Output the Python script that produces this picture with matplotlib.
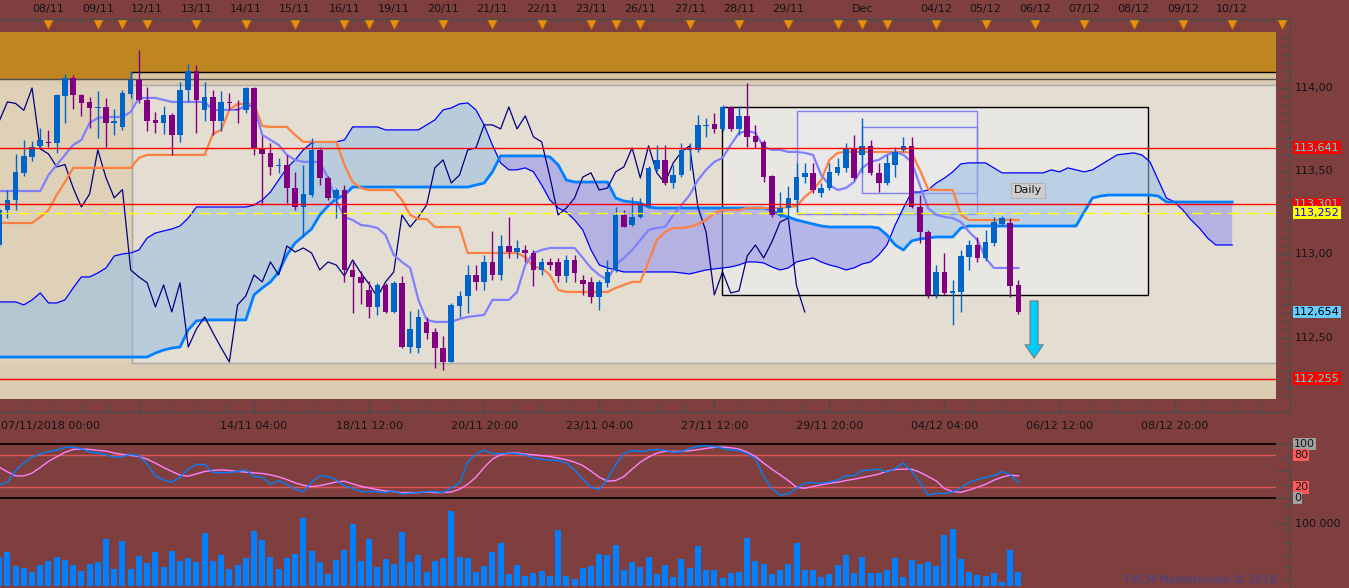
import matplotlib
matplotlib.use("Agg")
import matplotlib.pyplot as plt
import matplotlib.transforms as mtransforms
from matplotlib.lines import Line2D
from matplotlib.patches import Rectangle
import numpy as np

plt.rcParams["font.family"] = "DejaVu Sans"

# ---------------- data (4H bars, oldest first) ----------------
opens = [
    113.057, 113.267, 113.327, 113.49, 113.587, 113.652, 113.676, 113.67, 113.952, 114.06,
    113.958, 113.916, 113.88, 113.886, 113.79, 113.766, 113.964, 114.048, 113.928, 113.81,
    113.79, 113.84, 113.718, 113.988, 114.10, 113.868, 113.946, 113.80, 113.913, 113.87,
    113.868, 114.00, 113.64, 113.61, 113.53, 113.537, 113.40, 113.285, 113.357, 113.628,
    113.46, 113.34, 113.39, 112.907, 112.865, 112.787, 112.685, 112.817, 112.655, 112.83,
    112.444, 112.44, 112.595, 112.535, 112.44, 112.354, 112.691, 112.751, 112.877, 112.835,
    112.955, 112.877, 113.051, 113.015, 113.027, 113.009, 112.907, 112.955, 112.955, 112.871,
    112.967, 112.847, 112.835, 112.745, 112.829, 112.907, 113.237, 113.177, 113.225, 113.285,
    113.514, 113.568, 113.429, 113.477, 113.628, 113.628, 113.772, 113.784, 113.754, 113.886,
    113.754, 113.832, 113.712, 113.676, 113.471, 113.237, 113.279, 113.327, 113.465, 113.490,
    113.369, 113.399, 113.490, 113.520, 113.640, 113.598, 113.652, 113.490, 113.429, 113.538,
    113.628, 113.652, 113.285, 113.135, 112.757, 112.895, 112.769, 112.775, 112.985, 113.057,
    112.979, 113.069, 113.183, 113.189, 112.817,
]
highs = [
    113.28, 113.387, 113.604, 113.69, 113.68, 113.76, 113.748, 113.964, 114.084, 114.078,
    113.964, 113.946, 113.98, 113.94, 113.874, 113.99, 114.10, 114.228, 114.006, 113.856,
    113.89, 113.85, 114.036, 114.144, 114.138, 114.036, 113.99, 113.98, 113.97, 113.93,
    114.006, 114.006, 113.71, 113.67, 113.58, 113.598, 113.495, 113.537, 113.70, 113.646,
    113.47, 113.40, 113.42, 112.96, 112.90, 112.84, 112.83, 112.83, 112.84, 112.87,
    112.66, 112.67, 112.625, 112.56, 112.51, 112.709, 112.78, 112.937, 112.937, 112.997,
    113.141, 113.117, 113.225, 113.087, 113.057, 113.027, 112.979, 112.979, 112.979, 112.997,
    112.997, 112.877, 112.865, 112.847, 112.967, 113.285, 113.267, 113.345, 113.339, 113.53,
    113.658, 113.658, 113.538, 113.670, 113.670, 113.838, 113.820, 113.850, 113.898, 113.892,
    113.892, 114.030, 113.778, 113.688, 113.477, 113.375, 113.411, 113.550, 113.550, 113.550,
    113.429, 113.550, 113.580, 113.670, 113.718, 113.820, 113.688, 113.550, 113.598, 113.646,
    113.706, 113.706, 113.357, 113.147, 112.937, 113.009, 112.847, 113.027, 113.087, 113.105,
    113.147, 113.225, 113.231, 113.219, 112.847,
]
lows = [
    113.04, 113.22, 113.267, 113.47, 113.56, 113.64, 113.646, 113.61, 113.79, 113.874,
    113.83, 113.76, 113.70, 113.646, 113.72, 113.75, 113.94, 113.91, 113.742, 113.73,
    113.724, 113.598, 113.676, 113.916, 113.73, 113.80, 113.72, 113.74, 113.87, 113.79,
    113.85, 113.598, 113.30, 113.478, 113.49, 113.31, 113.267, 113.105, 113.345, 113.417,
    113.327, 113.22, 112.835, 112.65, 112.70, 112.62, 112.637, 112.65, 112.65, 112.44,
    112.41, 112.41, 112.49, 112.32, 112.306, 112.354, 112.625, 112.649, 112.787, 112.787,
    112.847, 112.847, 112.979, 112.979, 112.955, 112.811, 112.877, 112.907, 112.835, 112.835,
    112.835, 112.757, 112.709, 112.667, 112.805, 112.895, 113.165, 113.171, 113.219, 113.279,
    113.50, 113.417, 113.399, 113.465, 113.508, 113.616, 113.706, 113.730, 113.742, 113.742,
    113.718, 113.646, 113.640, 113.435, 113.225, 113.225, 113.207, 113.255, 113.429, 113.369,
    113.345, 113.387, 113.477, 113.496, 113.447, 113.490, 113.477, 113.375, 113.417, 113.465,
    113.616, 113.279, 113.069, 112.739, 112.739, 112.757, 112.577, 112.655, 112.907, 112.955,
    112.961, 113.051, 113.171, 112.745, 112.643,
]
closes = [
    113.267, 113.327, 113.496, 113.59, 113.646, 113.688, 113.67, 113.958, 114.06, 113.958,
    113.91, 113.88, 113.885, 113.79, 113.80, 113.97, 114.048, 113.928, 113.80, 113.79,
    113.84, 113.718, 113.988, 114.10, 113.928, 113.946, 113.80, 113.916, 113.907, 113.866,
    114.00, 113.634, 113.604, 113.526, 113.54, 113.40, 113.285, 113.363, 113.628, 113.46,
    113.34, 113.39, 112.907, 112.865, 112.83, 112.685, 112.817, 112.655, 112.83, 112.444,
    112.553, 112.625, 112.53, 112.44, 112.354, 112.697, 112.751, 112.877, 112.835, 112.955,
    112.877, 113.051, 113.015, 113.039, 113.009, 112.907, 112.955, 112.937, 112.871, 112.967,
    112.889, 112.823, 112.745, 112.835, 112.895, 113.237, 113.165, 113.225, 113.297, 113.520,
    113.568, 113.429, 113.477, 113.628, 113.640, 113.778, 113.778, 113.754, 113.886, 113.754,
    113.832, 113.706, 113.676, 113.465, 113.237, 113.279, 113.339, 113.465, 113.490, 113.387,
    113.399, 113.496, 113.526, 113.640, 113.459, 113.652, 113.490, 113.429, 113.550, 113.616,
    113.652, 113.285, 113.135, 112.757, 112.895, 112.769, 112.781, 112.991, 113.057, 112.979,
    113.075, 113.195, 113.219, 112.811, 112.655,
]

tenkan = [
    113.381, 113.381, 113.381, 113.381, 113.381, 113.381, 113.477, 113.538, 113.598, 113.658,
    113.688, 113.790, 113.820, 113.826, 113.826, 113.826, 113.856, 113.940, 113.940, 113.940,
    113.928, 113.916, 113.916, 113.916, 113.916, 113.916, 113.868, 113.868, 113.868, 113.868,
    113.892, 113.892, 113.718, 113.688, 113.658, 113.598, 113.568, 113.556, 113.556, 113.556,
    113.459, 113.327, 113.225, 113.207, 113.177, 113.171, 113.159, 113.117, 112.997, 112.955,
    112.919, 112.727, 112.607, 112.595, 112.595, 112.595, 112.613, 112.625, 112.631, 112.637,
    112.727, 112.727, 112.727, 112.775, 112.937, 113.009, 113.027, 113.039, 113.039, 113.039,
    113.039, 112.979, 112.919, 112.877, 112.847, 112.937, 112.979, 113.027, 113.087, 113.147,
    113.159, 113.165, 113.237, 113.297, 113.357, 113.447, 113.508, 113.556, 113.580, 113.658,
    113.730, 113.742, 113.730, 113.646, 113.628, 113.628, 113.616, 113.616, 113.610, 113.598,
    113.477, 113.417, 113.387, 113.399, 113.435, 113.520, 113.556, 113.568, 113.598, 113.616,
    113.598, 113.556, 113.417, 113.279, 113.237, 113.225, 113.219, 113.195, 113.135, 113.087,
    112.979, 112.919, 112.919, 112.919, 112.919,
]
kijun = [
    113.189, 113.189, 113.189, 113.189, 113.189, 113.225, 113.267, 113.357, 113.435, 113.520,
    113.520, 113.520, 113.520, 113.520, 113.520, 113.520, 113.520, 113.580, 113.598, 113.598,
    113.598, 113.598, 113.598, 113.598, 113.598, 113.598, 113.724, 113.748, 113.868, 113.904,
    113.904, 113.904, 113.772, 113.766, 113.766, 113.766, 113.718, 113.676, 113.676, 113.676,
    113.676, 113.676, 113.538, 113.435, 113.399, 113.387, 113.387, 113.387, 113.387, 113.327,
    113.237, 113.213, 113.213, 113.165, 113.165, 113.165, 113.165, 113.009, 113.009, 113.009,
    113.009, 113.009, 113.009, 113.009, 112.985, 112.925, 112.919, 112.877, 112.787, 112.775,
    112.775, 112.775, 112.775, 112.775, 112.775, 112.799, 112.817, 112.835, 112.835, 112.955,
    113.087, 113.135, 113.159, 113.159, 113.165, 113.183, 113.207, 113.249, 113.267, 113.267,
    113.267, 113.279, 113.279, 113.279, 113.279, 113.279, 113.285, 113.291, 113.345, 113.387,
    113.447, 113.568, 113.610, 113.616, 113.616, 113.616, 113.616, 113.616, 113.616, 113.616,
    113.616, 113.610, 113.508, 113.393, 113.387, 113.387, 113.387, 113.237, 113.207, 113.207,
    113.207, 113.207, 113.207, 113.207, 113.207,
]
# cloud, already shifted 26 bars ahead (thick = span A, thin = span B)
span_a = [
    112.384, 112.384, 112.384, 112.384, 112.384, 112.384, 112.384, 112.384, 112.384, 112.384,
    112.384, 112.384, 112.384, 112.384, 112.384, 112.384, 112.384, 112.384, 112.384, 112.408,
    112.426, 112.438, 112.444, 112.547, 112.601, 112.607, 112.607, 112.607, 112.607, 112.607,
    112.607, 112.757, 112.799, 112.835, 112.895, 112.997, 113.069, 113.111, 113.153, 113.237,
    113.291, 113.333, 113.357, 113.405, 113.405, 113.405, 113.405, 113.405, 113.405, 113.405,
    113.405, 113.405, 113.405, 113.405, 113.405, 113.405, 113.405, 113.405, 113.417, 113.429,
    113.496, 113.592, 113.592, 113.592, 113.592, 113.592, 113.592, 113.586, 113.538, 113.447,
    113.435, 113.435, 113.435, 113.435, 113.435, 113.339, 113.321, 113.315, 113.309, 113.285,
    113.279, 113.279, 113.279, 113.279, 113.279, 113.279, 113.279, 113.279, 113.279, 113.279,
    113.279, 113.279, 113.279, 113.279, 113.267, 113.237, 113.225, 113.207, 113.195, 113.183,
    113.171, 113.165, 113.165, 113.165, 113.165, 113.165, 113.165, 113.159, 113.117, 113.057,
    113.027, 113.081, 113.093, 113.099, 113.105, 113.105, 113.105, 113.159, 113.171, 113.171,
    113.171, 113.171, 113.171, 113.171, 113.171, 113.171, 113.171, 113.171, 113.171, 113.171,
    113.171, 113.171, 113.255, 113.339, 113.351, 113.357, 113.357, 113.357, 113.357, 113.357,
    113.357, 113.351, 113.315, 113.315, 113.315, 113.315, 113.315, 113.315, 113.315, 113.315,
    113.315,
]
span_b = [
    112.715, 112.715, 112.715, 112.697, 112.727, 112.769, 112.709, 112.709, 112.727, 112.799,
    112.865, 112.865, 112.889, 112.919, 112.991, 113.003, 113.009, 113.027, 113.099, 113.129,
    113.141, 113.153, 113.171, 113.219, 113.285, 113.285, 113.285, 113.285, 113.285, 113.285,
    113.285, 113.297, 113.327, 113.375, 113.447, 113.520, 113.568, 113.628, 113.670, 113.676,
    113.676, 113.676, 113.688, 113.766, 113.766, 113.766, 113.766, 113.748, 113.748, 113.748,
    113.748, 113.748, 113.778, 113.808, 113.868, 113.880, 113.904, 113.910, 113.868, 113.778,
    113.658, 113.550, 113.508, 113.508, 113.520, 113.496, 113.417, 113.327, 113.279, 113.255,
    113.207, 113.147, 113.027, 112.937, 112.919, 112.907, 112.895, 112.895, 112.895, 112.895,
    112.895, 112.895, 112.895, 112.889, 112.883, 112.895, 112.907, 112.913, 112.919, 112.925,
    112.937, 112.955, 112.955, 112.949, 112.925, 112.907, 112.919, 112.955, 112.967, 112.979,
    112.955, 112.937, 112.925, 112.907, 112.919, 112.943, 112.955, 112.997, 113.057, 113.177,
    113.279, 113.375, 113.375, 113.387, 113.429, 113.459, 113.496, 113.544, 113.550, 113.550,
    113.550, 113.520, 113.490, 113.490, 113.490, 113.490, 113.490, 113.490, 113.508, 113.496,
    113.520, 113.508, 113.496, 113.508, 113.538, 113.568, 113.598, 113.604, 113.610, 113.598,
    113.556, 113.447, 113.339, 113.315, 113.267, 113.207, 113.159, 113.099, 113.057, 113.057,
    113.057,
]

stoch_k = [
    24.7, 29.6, 51.2, 64.8, 75.9, 82.1, 85.8, 88.8, 93.8, 94.4,
    91.3, 85.1, 83.3, 80.2, 75.3, 77.1, 80.8, 78.4, 63.5, 41.3,
    33.9, 29.6, 38.9, 54.3, 62.3, 62.3, 47.5, 47.5, 47.5, 49.4,
    52.4, 40.1, 38.9, 25.9, 32.7, 25.9, 16.7, 12.3, 29.6, 41.3,
    40.1, 33.9, 22.8, 18.5, 12.3, 12.3, 12.3, 10.5, 13.6, 8.0,
    9.3, 10.5, 12.3, 12.3, 10.5, 19.7, 27.8, 66.6, 81.4, 88.8,
    82.1, 82.1, 83.3, 82.1, 80.2, 74.0, 72.2, 69.7, 69.7, 64.8,
    52.4, 35.2, 19.7, 16.7, 35.2, 61.7, 82.1, 88.2, 86.4, 88.2,
    90.1, 88.2, 85.1, 85.8, 91.9, 95.6, 96.9, 95.6, 91.9, 88.8,
    88.2, 82.1, 72.8, 40.1, 17.9, 6.2, 8.0, 18.5, 27.8, 29.0,
    27.8, 29.6, 33.9, 41.3, 42.0, 51.2, 52.4, 53.7, 48.1, 54.9,
    64.8, 50.0, 29.0, 6.2, 9.3, 8.6, 11.7, 19.1, 29.6, 34.6,
    38.3, 42.0, 49.4, 43.2, 29.0,
]
stoch_d = [
    57.4, 48.7, 41.3, 41.3, 46.3, 56.8, 67.9, 76.5, 84.5, 90.1,
    90.7, 90.1, 88.2, 87.0, 83.3, 80.8, 79.0, 77.1, 72.2, 64.8,
    56.8, 49.4, 42.6, 40.7, 45.0, 49.4, 51.2, 52.4, 51.2, 49.4,
    48.1, 46.9, 45.7, 43.2, 39.5, 34.6, 28.4, 24.1, 21.6, 23.4,
    26.5, 30.2, 31.5, 26.5, 22.2, 19.1, 16.0, 13.6, 12.3, 10.5,
    10.5, 10.5, 11.7, 10.5, 10.5, 11.7, 16.7, 25.9, 38.9, 56.8,
    72.2, 80.2, 83.3, 83.3, 81.4, 80.2, 78.4, 77.1, 74.0, 71.0,
    66.6, 60.5, 50.0, 38.9, 31.5, 32.7, 40.1, 53.7, 66.6, 75.9,
    83.3, 86.4, 86.4, 86.4, 87.6, 89.5, 91.9, 93.8, 94.4, 93.1,
    90.7, 85.1, 77.1, 64.8, 53.7, 43.2, 32.7, 20.4, 18.5, 21.6,
    24.7, 27.8, 29.6, 32.7, 35.2, 38.3, 41.3, 44.4, 50.0, 53.1,
    53.7, 53.7, 48.1, 40.1, 32.1, 17.9, 12.3, 11.1, 15.4, 20.4,
    25.9, 33.3, 38.9, 42.6, 41.3,
]
volume_k = [  # thousands
    47.3, 54.8, 32.3, 29.0, 22.6, 33.9, 40.3, 46.8, 41.9, 33.9,
    24.2, 35.5, 38.7, 75.8, 27.4, 72.6, 27.4, 48.4, 37.1, 54.8,
    30.6, 56.5, 40.3, 45.2, 38.7, 85.5, 40.3, 50.0, 27.4, 33.9,
    45.2, 88.7, 74.2, 46.8, 27.4, 45.2, 51.6, 109.7, 56.5, 38.7,
    19.4, 41.9, 58.1, 100.0, 40.3, 75.8, 30.6, 43.6, 35.5, 87.1,
    38.7, 50.0, 22.6, 40.3, 45.2, 121.0, 46.8, 45.2, 22.6, 32.3,
    54.8, 69.4, 19.4, 33.9, 16.1, 21.0, 24.2, 16.1, 90.3, 16.1,
    11.3, 29.0, 32.3, 51.6, 50.0, 66.1, 25.8, 38.7, 30.6, 46.8,
    19.4, 33.9, 14.5, 43.6, 29.0, 64.5, 25.8, 25.8, 12.9, 21.0,
    22.6, 77.4, 40.3, 35.5, 19.4, 25.8, 35.5, 69.4, 25.8, 25.8,
    14.5, 19.4, 33.9, 50.0, 21.0, 46.8, 21.0, 21.0, 25.8, 45.2,
    14.5, 41.9, 35.5, 38.7, 32.3, 82.3, 91.9, 43.6, 22.6, 17.7,
    16.1, 21.0, 6.5, 58.1, 22.6,
]

day_idx = [6, 12, 18, 24, 30, 36, 42, 48, 54, 60, 66, 72, 78, 84, 90, 96,
           105, 114, 120, 126, 132, 138, 144, 150]
day_lbl = ["08/11", "09/11", "12/11", "13/11", "14/11", "15/11", "16/11", "19/11",
           "20/11", "21/11", "22/11", "23/11", "26/11", "27/11", "28/11", "29/11",
           "Dec", "04/12", "05/12", "06/12", "07/12", "08/12", "09/12", "10/12"]
marker_idx = [6, 12, 15, 18, 24, 30, 36, 42, 45, 48, 54, 60, 66, 72, 75, 78, 84, 90,
              96, 102, 105, 108, 114, 120, 126, 132, 138, 144, 150, 156]
time_idx = [31, 45, 59, 73, 87, 101, 115, 129, 143]
time_lbl = ["14/11 04:00", "18/11 12:00", "20/11 20:00", "23/11 04:00", "27/11 12:00",
            "29/11 20:00", "04/12 04:00", "06/12 12:00", "08/12 20:00"]

price_ticks = [112.50, 113.00, 113.50, 114.00]
red_levels = [113.641, 113.301, 112.255]
bid_level = 113.252
last_level = 112.654

# drawn zones / boxes
zone_top = (114.096, 114.336)          # orange resistance band
light_zone = (16.16, 112.348, 114.018)  # start bar, bottom, top
big_box = (87.94, 139.76, 112.757, 113.886)
blue_box = (97.0, 118.9, 113.243, 113.862)
inner_box = (105.0, 118.9, 113.369, 113.766)
arrow_x, arrow_top, arrow_tip = 125.9, 112.721, 112.378
daily_x, daily_y = 125.2, 113.385

# ---------------- layout ----------------
W, H = 1349, 588
PLOT_W = 1276
MAROON = "#7f3f3f"
TXT = "#141414"
AXC = "#4c4c4c"
XLIM = (0.10, 155.33)
YLIM = (112.132, 114.336)
BLUE = "#0064c8"
PURPLE = "#800080"

fig = plt.figure(figsize=(W / 100, H / 100), dpi=100, facecolor=MAROON)


def panel(top_px, bot_px):
    a = fig.add_axes([0, 1 - bot_px / H, PLOT_W / W, (bot_px - top_px) / H])
    a.set_xlim(*XLIM)
    a.set_xticks([])
    a.set_yticks([])
    for s in a.spines.values():
        s.set_visible(False)
    a.set_facecolor("none")
    return a


# ---- main price panel ----
ax = panel(32, 399)
ax.set_facecolor("#dccdb2")
ax.set_ylim(*YLIM)

ax.axhspan(zone_top[0], zone_top[1], color="#bf8520", lw=0, zorder=0.2)
ax.add_patch(Rectangle((XLIM[0] - 1, 114.054), light_zone[0] - XLIM[0] + 1, zone_top[0] - 114.054,
                       fc="#bf8520", lw=0, zorder=0.2))
ax.add_patch(Rectangle((light_zone[0], 114.054), 200, zone_top[0] - 114.054,
                       fc="#d9c6a0", lw=0, zorder=0.2))
ax.add_patch(Rectangle((XLIM[0] - 1, light_zone[1]), light_zone[0] - XLIM[0] + 1,
                       light_zone[2] - light_zone[1], fc="#ded1b8", lw=0, zorder=0.3))
ax.add_patch(Rectangle((light_zone[0], light_zone[1]), 200, light_zone[2] - light_zone[1],
                       fc="#e4ded2", ec="#a9a9a9", lw=1, zorder=0.3))
ax.plot([light_zone[0], light_zone[0]], [light_zone[1], zone_top[0]], color="#a9a9a9", lw=1, zorder=0.35)
ax.axhline(114.054, color="#505050", lw=1, zorder=0.4)
ax.plot([light_zone[0], XLIM[1] + 5], [zone_top[0]] * 2, color="black", lw=1, zorder=0.4)

bx = big_box
ax.add_patch(Rectangle((bx[0], bx[2]), bx[1] - bx[0], bx[3] - bx[2],
                       fc="#e9e7e2", ec="black", lw=1, zorder=0.5))
bb = blue_box
ax.add_patch(Rectangle((bb[0], bb[2]), bb[1] - bb[0], bb[3] - bb[2],
                       fc="#e9e8e8", ec="#8080f0", lw=1, zorder=0.55))
ib = inner_box
ax.add_patch(Rectangle((ib[0], ib[2]), ib[1] - ib[0], ib[3] - ib[2],
                       fc="none", ec="#8080f0", lw=1, zorder=0.56))

# ichimoku cloud
xc = np.arange(len(span_a))
sa = np.array(span_a)
sb = np.array(span_b)
ax.fill_between(xc, sa, sb, where=sb >= sa, interpolate=True, color="#96bee6", alpha=0.55, lw=0, zorder=1)
ax.fill_between(xc, sa, sb, where=sa > sb, interpolate=True, color="#8d8fef", alpha=0.55, lw=0, zorder=1)
ax.plot(xc, span_b, color="#0000ff", lw=0.9, zorder=2)
ax.plot(xc, span_a, color="#0080ff", lw=2.0, zorder=2)

xb = np.arange(len(closes))
lag = 26
ax.plot(np.arange(len(closes) - lag), closes[lag:], color="#000080", lw=0.9, zorder=2)
ax.plot(xb, kijun, color="#ff8040", lw=1.6, zorder=3)
ax.plot(xb, tenkan, color="#8080ff", lw=1.6, zorder=3)

# candles
o = np.array(opens)
c = np.array(closes)
cols = [BLUE if cc >= oo else PURPLE for oo, cc in zip(o, c)]
ax.vlines(xb, lows, highs, colors=cols, lw=1, zorder=4)
body = np.maximum(np.abs(c - o), 0.007)
ax.bar(xb, body, bottom=np.minimum(o, c), width=0.68, color=cols, lw=0, zorder=4)

# levels
for lv in red_levels:
    ax.axhline(lv, color="#ff0000", lw=1, zorder=5)
ax.axhline(bid_level, color="#ffff00", lw=1, dashes=(8, 5), zorder=5)

ax.annotate("", xy=(arrow_x, arrow_tip), xytext=(arrow_x, arrow_top),
            arrowprops=dict(arrowstyle="simple,head_width=1.3,head_length=0.95,tail_width=0.58",
                            mutation_scale=10, fc="#00ccff", ec="#7a7a7a", lw=0.8,
                            shrinkA=0, shrinkB=0), zorder=6)
ax.text(daily_x, daily_y, "Daily", ha="center", va="center", fontsize=8, color=TXT, zorder=6,
        bbox=dict(boxstyle="square,pad=0.25", fc="#cdcdcd", ec="#b4b4b4", lw=0.8))

# right price scale
tr = mtransforms.blended_transform_factory(ax.transAxes, ax.transData)
xa = 1290 / PLOT_W
for p in np.round(np.arange(112.15, 114.31, 0.05), 2):
    major = abs(p * 2 - round(p * 2)) < 1e-6
    x0 = 1277 / PLOT_W if major else 1282 / PLOT_W
    ax.plot([x0, xa], [p, p], transform=tr, color=AXC, lw=1, clip_on=False)
xl = 1295 / PLOT_W
for p in price_ticks:
    ax.text(xl, p, f"{p:.2f}".replace(".", ","), transform=tr, ha="left", va="center",
            fontsize=8, color=TXT, clip_on=False)


def tag(p, fc, tc, z):
    ax.text(1294 / PLOT_W, p, f"{p:.3f}".replace(".", ","), transform=tr, ha="left", va="center",
            fontsize=8, color=tc, clip_on=False, zorder=z,
            bbox=dict(boxstyle="square,pad=0.12", fc=fc, ec="none"))


tag(red_levels[0], "#ff0000", "#40e8e8", 7)
tag(red_levels[1], "#ff0000", "#40e8e8", 7)
tag(bid_level, "#ffff00", "#0000ff", 8)
tag(last_level, "#66ccff", "#000000", 7)
tag(red_levels[2], "#ff0000", "#40e8e8", 7)

# ---- top date strip ----
ax_top = panel(0, 32)
ax_top.set_ylim(32, 0)
ax_top.vlines(np.arange(0, 157), 19, 23, color=AXC, lw=1, clip_on=False)
ax_top.plot(marker_idx, [23.5] * len(marker_idx), "v", ms=6.5, color="#e8900c",
            mec="#b86e00", mew=0.5, clip_on=False, zorder=3)
for i, lbl in zip(day_idx, day_lbl):
    ax_top.text(i, 9, lbl, ha="center", va="center", fontsize=8, color=TXT)

# ---- bottom time axis ----
ax_date = panel(399, 441)
ax_date.set_ylim(441, 399)
minor = np.arange(3, 156, 3.5)
ax_date.vlines(minor, 404, 412, color=AXC, lw=1)
ax_date.vlines(time_idx + [17], 400, 412, color=AXC, lw=1)
ax_date.text(0.001, 426, "07/11/2018 00:00", transform=mtransforms.blended_transform_factory(
    ax_date.transAxes, ax_date.transData), ha="left", va="center", fontsize=8, color=TXT)
for i, lbl in zip(time_idx, time_lbl):
    ax_date.text(i, 426, lbl, ha="center", va="center", fontsize=8, color=TXT)

# frame lines around price panel
fig.add_artist(Line2D([0, 1290 / W], [1 - 19 / H] * 2, color=AXC, lw=1))
fig.add_artist(Line2D([0, 1290 / W], [1 - 412 / H] * 2, color=AXC, lw=1))
fig.add_artist(Line2D([1290 / W] * 2, [1 - 19 / H, 1 - 412 / H], color=AXC, lw=1))
fig.add_artist(Line2D([1290 / W] * 2, [1 - 441 / H, 0], color=AXC, lw=1))

# ---- stochastic ----
ax_sto = panel(437, 500)
ax_sto.set_ylim(-3.13, 112.9)
ax_sto.axhline(100, color="black", lw=1.2)
ax_sto.axhline(0, color="black", lw=1.2)
ax_sto.axhline(80, color="#e05555", lw=1)
ax_sto.axhline(20, color="#e05555", lw=1)
ax_sto.plot(xb, stoch_d, color="#ff80ff", lw=1)
ax_sto.plot(xb, stoch_k, color="#0080ff", lw=1)
trs = mtransforms.blended_transform_factory(ax_sto.transAxes, ax_sto.transData)
for v in [0, 25, 50, 75, 100]:
    x0 = 1277 / PLOT_W if v in (0, 50, 100) else 1283 / PLOT_W
    ax_sto.plot([x0, xa], [v, v], transform=trs, color=AXC, lw=1, clip_on=False)
for v, fc in [(100, "#a0a0a0"), (80, "#ff5a5a"), (20, "#ff5a5a"), (0, "#a0a0a0")]:
    ax_sto.text(1294 / PLOT_W, v, str(v), transform=trs, ha="left", va="center", fontsize=8,
                color=TXT, clip_on=False, bbox=dict(boxstyle="square,pad=0.1", fc=fc, ec="none"))

# ---- volume ----
ax_vol = panel(502, 586)
ax_vol.set_ylim(0, 135.5)
ax_vol.bar(xb, volume_k, width=0.73, color="#0080ff", lw=0)
trv = mtransforms.blended_transform_factory(ax_vol.transAxes, ax_vol.transData)
for v in range(10, 131, 20):
    ax_vol.plot([1283 / PLOT_W, xa], [v, v], transform=trv, color=AXC, lw=1, clip_on=False)
ax_vol.plot([1277 / PLOT_W, xa], [100, 100], transform=trv, color=AXC, lw=1, clip_on=False)
ax_vol.text(1295 / PLOT_W, 100, "100 000", transform=trv, ha="left", va="center", fontsize=8,
            color=TXT, clip_on=False)
ax_vol.text(1.0, 9.7, "FXCM Marketscope \u00a9 2018", transform=trv, ha="right", va="center",
            fontsize=8, color="#40428a")

fig.savefig("out.png", dpi=100, facecolor=MAROON)
